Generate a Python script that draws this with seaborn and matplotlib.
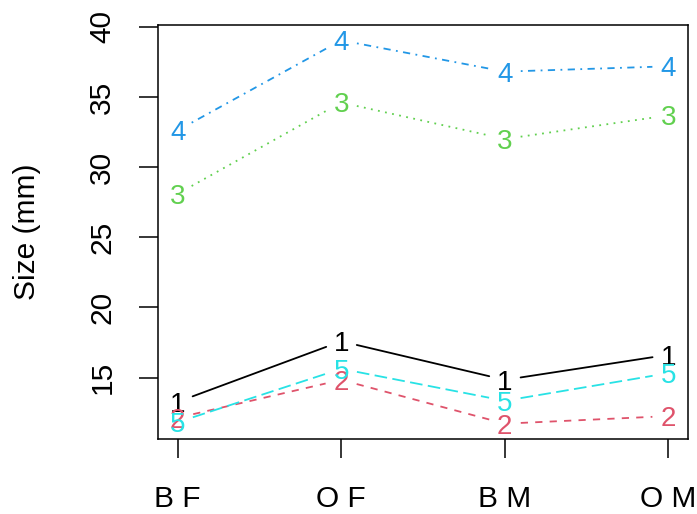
import numpy as np
import pandas as pd
import matplotlib
matplotlib.use("Agg")
import matplotlib.pyplot as plt
import seaborn as sns

# Group means of five body measurements, by species/sex group
groups = ["B F", "O F", "B M", "O M"]
fl = [13.27, 17.59, 14.84, 16.63]   # 1
rw = [12.14, 14.84, 11.72, 12.26]   # 2
cl = [28.10, 34.61, 32.01, 33.69]   # 3
cw = [32.62, 39.04, 36.81, 37.19]   # 4
bd = [11.82, 15.63, 13.35, 15.32]   # 5

series = [fl, rw, cl, cw, bd]
labels = ["1", "2", "3", "4", "5"]
colors = ["#000000", "#DF536B", "#61D04F", "#2297E6", "#28E2E5"]
dash_styles = ["", (4, 4), (1, 3), (1, 3, 4, 3), (7, 3)]

sns.set_theme(style="white")
plt.rcParams["font.family"] = ["Liberation Sans", "DejaVu Sans"]
plt.rcParams["text.color"] = "black"
plt.rcParams["axes.labelcolor"] = "black"

W, H, DPI = 697, 514, 100
fig = plt.figure(figsize=(W / DPI, H / DPI), dpi=DPI)
ax = fig.add_axes([158 / W, 1 - 439 / H, (688 - 158) / W, (439 - 25) / H])

xpos = np.arange(1, len(groups) + 1)
allv = np.concatenate(series)
lo, hi = allv.min(), allv.max()
pad = 0.04 * (hi - lo)
xlim = (1 - 0.04 * 3, 4 + 0.04 * 3)
ylim = (lo - pad, hi + pad)
ax.set_xlim(*xlim)
ax.set_ylim(*ylim)

# gapped segments between consecutive points (line + symbol style)
gap_px = 16
rows = []
seg_id = 0
for lab, vals in zip(labels, series):
    pts = ax.transData.transform(np.column_stack([xpos, vals]))
    for i in range(len(pts) - 1):
        p0, p1 = pts[i], pts[i + 1]
        d = p1 - p0
        u = d / np.hypot(*d)
        a = ax.transData.inverted().transform(p0 + u * gap_px)
        b = ax.transData.inverted().transform(p1 - u * gap_px)
        rows.append({"x": a[0], "y": a[1], "measure": lab, "seg": seg_id})
        rows.append({"x": b[0], "y": b[1], "measure": lab, "seg": seg_id})
        seg_id += 1
seg_df = pd.DataFrame(rows)

sns.lineplot(data=seg_df, x="x", y="y", hue="measure", style="measure",
             units="seg", estimator=None, sort=False,
             palette=dict(zip(labels, colors)),
             dashes=dict(zip(labels, dash_styles)),
             linewidth=1.3, legend=False, ax=ax)

# number symbols at each point
fs_sym = 20
for lab, vals, c in zip(labels, series, colors):
    for x, v in zip(xpos, vals):
        ax.annotate(lab, (x, v), xytext=(0, -0.716 * fs_sym / 2),
                    textcoords="offset points", ha="center", va="baseline",
                    fontsize=fs_sym, color=c)

ax.set_xlim(*xlim)
ax.set_ylim(*ylim)

ax.set_xticks(xpos)
ax.set_xticklabels(groups)
ax.set_yticks([15, 20, 25, 30, 35, 40])
ax.set_yticklabels(["15", "20", "25", "30", "35", "40"], rotation=90, va="center")
ax.set_xlabel("")
ax.set_ylabel("Size (mm)", fontsize=21.5, color="black")
ax.yaxis.label.set_va("center")
ax.yaxis.set_label_coords((27 - 158) / (688 - 158), 0.5)

ax.tick_params(axis="both", which="both", direction="out", length=14,
               width=1.1, color="black", labelsize=21.5, labelcolor="black")
ax.tick_params(axis="x", pad=19, bottom=True)
ax.tick_params(axis="y", pad=16, left=True)
for s in ax.spines.values():
    s.set_visible(True)
    s.set_color("black")
    s.set_linewidth(1.1)
ax.grid(False)

fig.savefig("out.png", dpi=DPI)
